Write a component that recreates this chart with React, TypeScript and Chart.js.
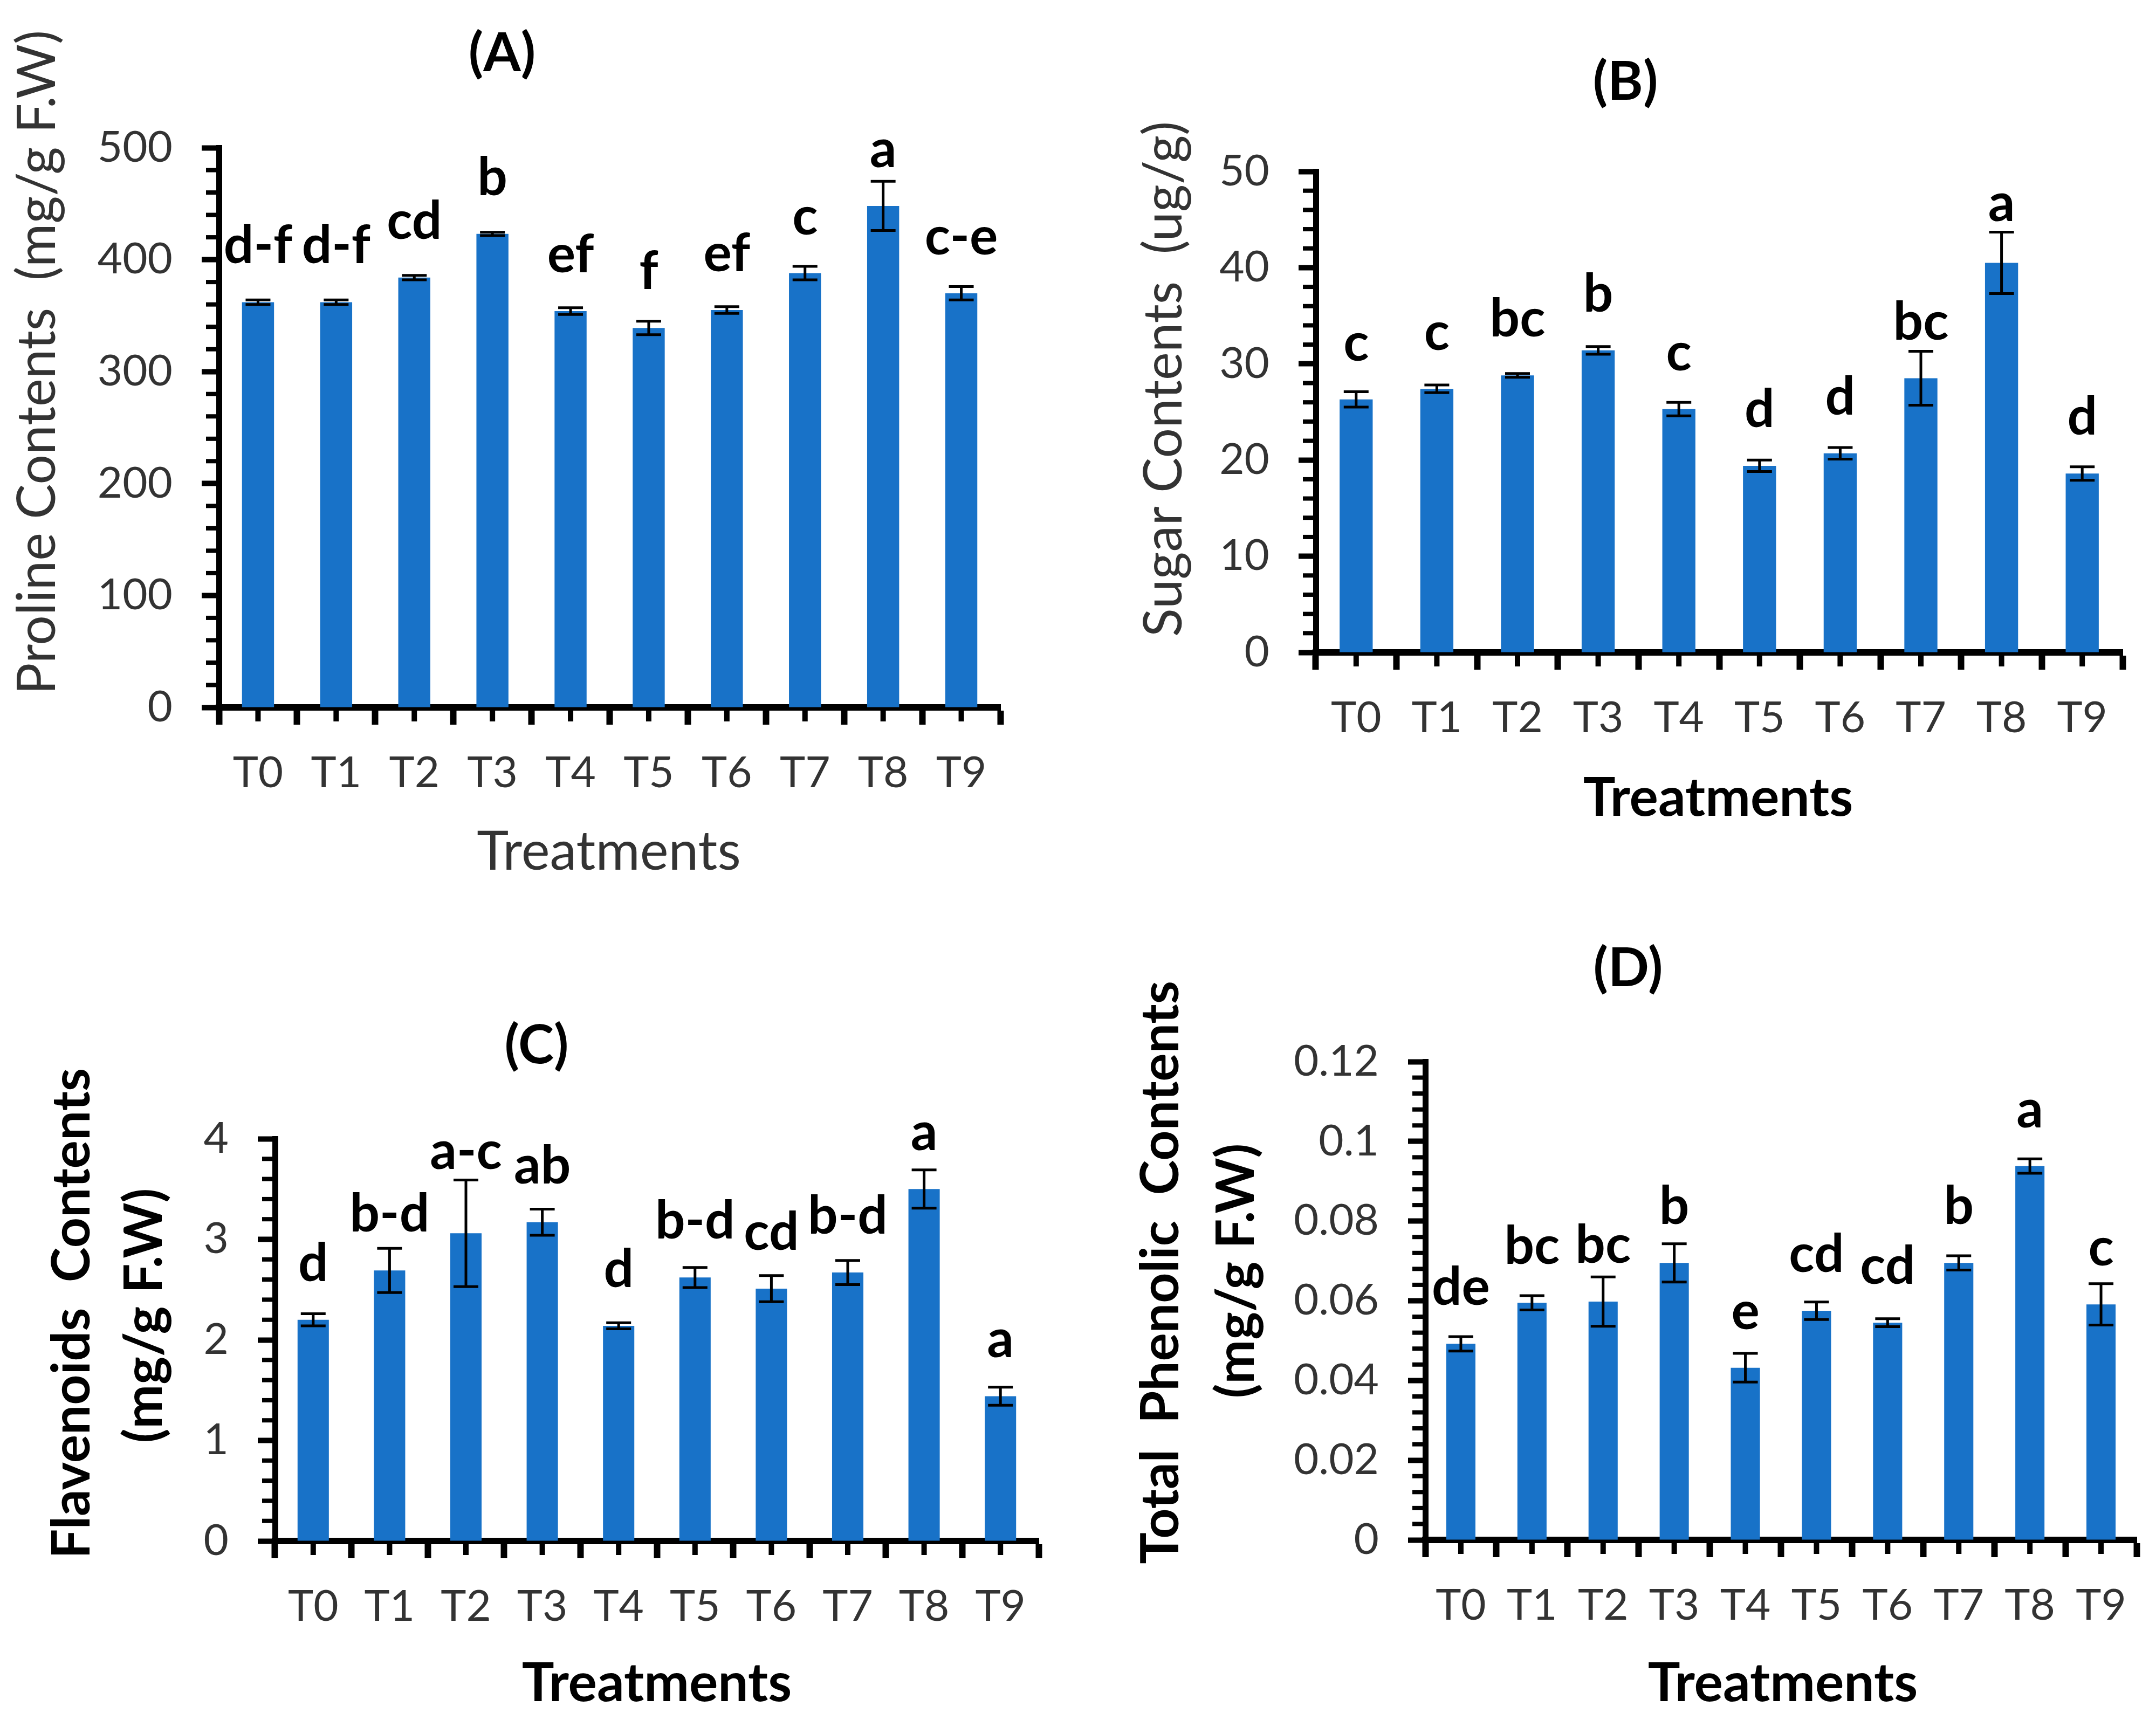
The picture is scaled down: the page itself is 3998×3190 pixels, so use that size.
import React, { useEffect, useRef } from 'react';
import { Chart, registerables } from 'chart.js';

Chart.register(...registerables);

// ---------------- DATA ----------------
const treatments = ['T0', 'T1', 'T2', 'T3', 'T4', 'T5', 'T6', 'T7', 'T8', 'T9'];

const prolineValues = [362, 362, 384, 423, 354, 339, 355, 388, 448, 370];
const prolineErrors = [2, 2, 2, 1.5, 3, 6, 3, 6, 22, 6];
const prolineLetters = ['d-f', 'd-f', 'cd', 'b', 'ef', 'f', 'ef', 'c', 'a', 'c-e'];
const prolineAxis = [0, 500, 100];

const sugarValues = [26.3, 27.4, 28.8, 31.4, 25.3, 19.4, 20.7, 28.5, 40.5, 18.6];
const sugarErrors = [0.8, 0.4, 0.2, 0.4, 0.7, 0.6, 0.6, 2.8, 3.2, 0.7];
const sugarLetters = ['c', 'c', 'bc', 'b', 'c', 'd', 'd', 'bc', 'a', 'd'];
const sugarAxis = [0, 50, 10];

const flavonoidValues = [2.2, 2.69, 3.06, 3.17, 2.14, 2.62, 2.51, 2.67, 3.5, 1.44];
const flavonoidErrors = [0.06, 0.22, 0.53, 0.13, 0.03, 0.1, 0.13, 0.12, 0.19, 0.09];
const flavonoidLetters = ['d', 'b-d', 'a-c', 'ab', 'd', 'b-d', 'cd', 'b-d', 'a', 'a'];
const flavonoidAxis = [0, 4, 1];

const phenolicValues = [0.0492, 0.0595, 0.0598, 0.0695, 0.0432, 0.0575, 0.0545, 0.0695, 0.0938, 0.0591];
const phenolicErrors = [0.0018, 0.0018, 0.0062, 0.0048, 0.0036, 0.0022, 0.001, 0.0018, 0.0018, 0.0052];
const phenolicLetters = ['de', 'bc', 'bc', 'b', 'e', 'cd', 'cd', 'b', 'a', 'c'];
const phenolicAxis = [0, 0.12, 0.02];

// ---------------- LAYOUT / STYLE ----------------
type PanelCfg = {
  key: string;
  left: number;
  top: number;
  width: number;
  height: number;
  area: { left: number; right: number; top: number; bottom: number };
  title: string;
  titlePos: [number, number];
  yTitle: string[];
  yTitlePos: [number, number][];
  yTitleBold: boolean;
  xTitle: string;
  xTitlePos: [number, number];
  xTitleBold: boolean;
  values: number[];
  errors: number[];
  letters: string[];
  axis: number[];
};

const FONT = 'Lato';
const BAR_COLOR = '#1872C8';
const TEXT_GRAY = '#333333';

const panels: PanelCfg[] = [
  {
    key: 'A',
    left: 0, top: 0, width: 2000, height: 1660,
    area: { left: 406, right: 1855, top: 274, bottom: 1312 },
    title: '(A)', titlePos: [931, 100],
    yTitle: ['Proline Contents  (mg/g F.W)'], yTitlePos: [[70, 672]], yTitleBold: false,
    xTitle: 'Treatments', xTitlePos: [1129, 1581], xTitleBold: false,
    values: prolineValues, errors: prolineErrors, letters: prolineLetters, axis: prolineAxis,
  },
  {
    key: 'B',
    left: 2000, top: 0, width: 1998, height: 1660,
    area: { left: 440, right: 1936, top: 318, bottom: 1210 },
    title: '(B)', titlePos: [1014, 153],
    yTitle: ['Sugar Contents  (ug/g)'], yTitlePos: [[159, 703]], yTitleBold: false,
    xTitle: 'Treatments', xTitlePos: [1186, 1481], xTitleBold: true,
    values: sugarValues, errors: sugarErrors, letters: sugarLetters, axis: sugarAxis,
  },
  {
    key: 'C',
    left: 0, top: 1660, width: 2000, height: 1530,
    area: { left: 510, right: 1926, top: 452, bottom: 1198 },
    title: '(C)', titlePos: [995, 280],
    yTitle: ['Flavenoids  Contents', '(mg/g F.W)'], yTitlePos: [[134, 776], [268, 780]], yTitleBold: true,
    xTitle: 'Treatments', xTitlePos: [1218, 1463], xTitleBold: true,
    values: flavonoidValues, errors: flavonoidErrors, letters: flavonoidLetters, axis: flavonoidAxis,
  },
  {
    key: 'D',
    left: 2000, top: 1660, width: 1998, height: 1530,
    area: { left: 643, right: 1962, top: 309, bottom: 1196 },
    title: '(D)', titlePos: [1019, 137],
    yTitle: ['Total  Phenolic  Contents', '(mg/g F.W)'], yTitlePos: [[153, 700], [293, 697]], yTitleBold: true,
    xTitle: 'Treatments', xTitlePos: [1306, 1463], xTitleBold: true,
    values: phenolicValues, errors: phenolicErrors, letters: phenolicLetters, axis: phenolicAxis,
  },
];

function makeDecorPlugin(p: PanelCfg) {
  return {
    id: 'decor' + p.key,
    afterDatasetsDraw(chart: any) {
      const ctx: CanvasRenderingContext2D = chart.ctx;
      const xs = chart.scales.x;
      const ys = chart.scales.y;
      const area = chart.chartArea;
      ctx.save();

      // error bars
      ctx.strokeStyle = '#000';
      ctx.lineWidth = 5;
      const cap = 23;
      p.values.forEach((v, i) => {
        const e = p.errors[i];
        const cx = xs.getPixelForValue(i);
        const yt = ys.getPixelForValue(v + e);
        const yb = ys.getPixelForValue(v - e);
        ctx.beginPath();
        ctx.moveTo(cx, yt);
        ctx.lineTo(cx, yb);
        ctx.moveTo(cx - cap, yt);
        ctx.lineTo(cx + cap, yt);
        ctx.moveTo(cx - cap, yb);
        ctx.lineTo(cx + cap, yb);
        ctx.stroke();
      });

      // significance letters
      ctx.fillStyle = '#000';
      ctx.font = `bold 98px ${FONT}`;
      ctx.textAlign = 'center';
      ctx.textBaseline = 'alphabetic';
      p.values.forEach((v, i) => {
        const e = p.errors[i];
        const cx = xs.getPixelForValue(i);
        const barTop = ys.getPixelForValue(v);
        const errTop = ys.getPixelForValue(v + e);
        const base = Math.min(barTop - 72, errTop - 20);
        ctx.fillText(p.letters[i], cx, base);
      });

      // minor ticks on y axis
      const [lo, hi, step] = p.axis;
      const minor = step / 5;
      ctx.strokeStyle = '#000';
      ctx.lineWidth = 8;
      for (let k = 0; k <= Math.round((hi - lo) / minor); k++) {
        if (k % 5 === 0) continue;
        const py = ys.getPixelForValue(lo + k * minor);
        ctx.beginPath();
        ctx.moveTo(area.left - 24, py);
        ctx.lineTo(area.left, py);
        ctx.stroke();
      }

      // short ticks at category centres
      ctx.lineWidth = 10;
      treatments.forEach((_, i) => {
        const cx = xs.getPixelForValue(i);
        ctx.beginPath();
        ctx.moveTo(cx, area.bottom);
        ctx.lineTo(cx, area.bottom + 26);
        ctx.stroke();
      });

      // panel title
      ctx.fillStyle = '#000';
      ctx.font = `bold 100px ${FONT}`;
      ctx.textAlign = 'center';
      ctx.textBaseline = 'middle';
      ctx.fillText(p.title, p.titlePos[0], p.titlePos[1]);

      // x axis title
      ctx.fillStyle = p.xTitleBold ? '#000' : TEXT_GRAY;
      ctx.font = `${p.xTitleBold ? 'bold ' : ''}100px ${FONT}`;
      ctx.fillText(p.xTitle, p.xTitlePos[0], p.xTitlePos[1]);

      // y axis title (rotated)
      ctx.fillStyle = p.yTitleBold ? '#000' : TEXT_GRAY;
      ctx.font = `${p.yTitleBold ? 'bold ' : ''}98px ${FONT}`;
      p.yTitle.forEach((t, i) => {
        const [tx, ty] = p.yTitlePos[i];
        ctx.save();
        ctx.translate(tx, ty);
        ctx.rotate(-Math.PI / 2);
        ctx.fillText(t, 0, 0);
        ctx.restore();
      });

      ctx.restore();
    },
  };
}

function buildConfig(p: PanelCfg): any {
  const [lo, hi, step] = p.axis;
  return {
    type: 'bar',
    data: {
      labels: treatments,
      datasets: [
        {
          data: p.values,
          backgroundColor: BAR_COLOR,
          borderWidth: 0,
          barPercentage: 0.41,
          categoryPercentage: 1,
        },
      ],
    },
    options: {
      responsive: false,
      animation: false,
      events: [],
      layout: {
        padding: { left: 0, top: p.area.top, right: p.width - p.area.right, bottom: 0 },
      },
      plugins: {
        legend: { display: false },
        tooltip: { enabled: false },
        title: { display: false },
      },
      scales: {
        x: {
          type: 'category',
          offset: true,
          grid: {
            offset: true,
            drawOnChartArea: false,
            drawTicks: true,
            tickLength: 32,
            tickWidth: 12,
            tickColor: '#000',
          },
          border: { display: true, color: '#000', width: 12 },
          ticks: {
            font: { family: FONT, size: 80 },
            color: TEXT_GRAY,
            padding: 42,
            autoSkip: false,
            maxRotation: 0,
            minRotation: 0,
          },
          afterFit: (s: any) => {
            s.height = p.height - p.area.bottom;
          },
        },
        y: {
          min: lo,
          max: hi,
          grid: {
            drawOnChartArea: false,
            drawTicks: true,
            tickLength: 32,
            tickWidth: 10,
            tickColor: '#000',
          },
          border: { display: true, color: '#000', width: 11 },
          ticks: {
            stepSize: step,
            autoSkip: false,
            font: { family: FONT, size: 80 },
            color: TEXT_GRAY,
            padding: 54,
            callback: (v: any) => String(Math.round(Number(v) * 1000) / 1000),
          },
          afterFit: (s: any) => {
            s.width = p.area.left;
          },
        },
      },
    },
    plugins: [makeDecorPlugin(p)],
  };
}

function PanelChart({ cfg }: { cfg: PanelCfg }) {
  const ref = useRef<HTMLCanvasElement>(null);
  useEffect(() => {
    if (!ref.current) return;
    const chart = new Chart(ref.current, buildConfig(cfg));
    return () => chart.destroy();
  }, [cfg]);
  return (
    <canvas
      ref={ref}
      width={cfg.width}
      height={cfg.height}
      style={{
        position: 'absolute',
        left: cfg.left,
        top: cfg.top,
        width: cfg.width,
        height: cfg.height,
      }}
    />
  );
}

export default function App() {
  return (
    <div
      style={{
        position: 'absolute',
        left: 0,
        top: 0,
        width: 3998,
        height: 3190,
        background: '#ffffff',
        overflow: 'hidden',
      }}
    >
      {panels.map((p) => (
        <PanelChart key={p.key} cfg={p} />
      ))}
    </div>
  );
}
